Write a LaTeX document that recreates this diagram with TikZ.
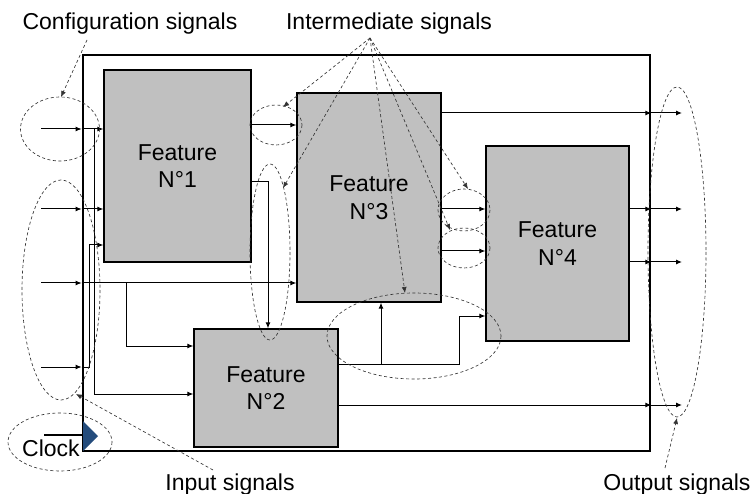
\documentclass[tikz,border=0pt]{standalone}
\usepackage{fontspec}
\setmainfont{Liberation Sans}
\usetikzlibrary{arrows.meta}
\definecolor{featgray}{HTML}{C0C0C0}
\definecolor{clockblue}{HTML}{244C7C}
\begin{document}
\begin{tikzpicture}[x=1pt,y=-1pt,
  feat/.style={draw=black, line width=1.3pt, fill=featgray, align=center,
    font=\fontsize{23}{27.5}\selectfont, inner sep=0pt},
  chipbox/.style={draw=black, line width=2.7pt, inner sep=0pt},
  wire/.style={line width=1pt, -{Latex[length=6pt,width=5pt]}},
  ann/.style={dash pattern=on 3pt off 2.5pt, line width=0.65pt, draw=black!80},
  annarrow/.style={ann, -{Latex[length=6pt,width=5pt]}},
  lbl/.style={font=\fontsize{23}{27.5}\selectfont, anchor=base, inner sep=0pt}
]
\useasboundingbox (0,0) rectangle (752,494);

% outer block
\node[chipbox, minimum width=567pt, minimum height=396pt] (chip) at (366.5,253) {};

% features
\node[feat, minimum width=147pt, minimum height=192pt] (f1) at (177.5,166) {Feature\\N°1};
\node[feat, minimum width=144pt, minimum height=209pt] (f3) at (369,197.5) {Feature\\N°3};
\node[feat, minimum width=143pt, minimum height=195pt] (f4) at (557.5,243.5) {Feature\\N°4};
\node[feat, minimum width=144pt, minimum height=118pt] (f2) at (266,388) {Feature\\N°2};

% input coordinates
\coordinate (i1) at (41,129);
\coordinate (i2) at (41,209);
\coordinate (i3) at (41,283);
\coordinate (i4) at (41,367);
\coordinate (b1) at (94,129);
\coordinate (b1d) at (94,394);
\coordinate (b3) at (126,283);
\coordinate (b3d) at (126,346);
\coordinate (b4) at (89,367);
\coordinate (b4u) at (89,245);

% inputs
\draw[wire] (i1) -- (chip.west |- i1);
\draw[wire] (chip.west |- i1) -- (f1.west |- i1);
\draw[wire] (i2) -- (chip.west |- i2);
\draw[wire] (chip.west |- i2) -- (f1.west |- i2);
\draw[wire] (i3) -- (chip.west |- i3);
\draw[wire] (chip.west |- i3) -- (f3.west |- i3);
\draw[wire] (i4) -- (chip.west |- i4);
\draw[wire] (chip.west |- i4) -- (b4) -- (b4u) -- (f1.west |- b4u);
\draw[wire] (b1) -- (b1d) -- (f2.west |- b1d);
\draw[wire] (b3) -- (b3d) -- (f2.west |- b3d);

% feature 1 outputs
\coordinate (k0) at (251,125);
\coordinate (k1) at (268,182);
\draw[wire] (f1.east |- k0) -- (f3.west |- k0);
\draw[wire] (f1.east |- k1) -- (k1) -- (k1 |- f2.north);

% feature 3 outputs
\coordinate (o1) at (682,113);
\coordinate (m1) at (441,209);
\coordinate (m2) at (441,251);
\draw[wire] (f3.east |- o1) -- (chip.east |- o1);
\draw[wire] (chip.east |- o1) -- (o1);
\draw[wire] (f3.east |- m1) -- (f4.west |- m1);
\draw[wire] (f3.east |- m2) -- (f4.west |- m2);

% feature 4 outputs
\coordinate (o2) at (682,209);
\coordinate (o3) at (682,262);
\draw[wire] (f4.east |- o2) -- (chip.east |- o2);
\draw[wire] (chip.east |- o2) -- (o2);
\draw[wire] (f4.east |- o3) -- (chip.east |- o3);
\draw[wire] (chip.east |- o3) -- (o3);

% feature 2 outputs
\coordinate (p1) at (381,364);
\coordinate (p2) at (459,364);
\coordinate (p3) at (459,316);
\coordinate (o4) at (682,405);
\draw[wire] (f2.east |- p1) -- (p1) -- (p1 |- f3.south);
\draw[wire] (p1) -- (p2) -- (p3) -- (f4.west |- p3);
\draw[wire] (f2.east |- o4) -- (chip.east |- o4);
\draw[wire] (chip.east |- o4) -- (o4);

% clock
\coordinate (ck) at (44,435);
\draw[line width=1.6pt] (ck) -- (chip.west |- ck);
\fill[clockblue] (83,421) -- (98,436) -- (83,451) -- cycle;
\node[lbl] (clk) at (51,456) {Clock};

% dashed groupings
\draw[ann] (60,129) ellipse [x radius=39.5, y radius=32];
\draw[ann] (61,290) ellipse [x radius=39, y radius=110];
\draw[ann] (60,442) ellipse [x radius=52, y radius=29];
\draw[ann] (276,125) ellipse [x radius=26, y radius=20];
\draw[ann] (270,252) ellipse [x radius=20, y radius=88];
\draw[ann] (464,210) ellipse [x radius=26, y radius=21];
\draw[ann] (464,248) ellipse [x radius=26, y radius=20];
\draw[ann] (414,336) ellipse [x radius=87, y radius=43];
\draw[ann] (677,252) ellipse [x radius=29, y radius=165];

% labels
\node[lbl] (lconf) at (130,30) {Configuration signals};
\node[lbl] (linter) at (389,30) {Intermediate signals};
\node[lbl] (linput) at (230,490) {Input signals};
\node[lbl] (loutput) at (677,490) {Output signals};

% annotation pointers
\coordinate (apex) at (370,38);
\coordinate (cfrom) at (87,40);
\draw[annarrow] (cfrom) -- (61,97);
\draw[annarrow] (apex) -- (283,107);
\draw[annarrow] (apex) -- (283,188);
\draw[annarrow] (apex) -- (405,293);
\draw[annarrow] (apex) -- (468,189);
\draw[annarrow] (apex) -- (450,230);
\coordinate (infrom) at (213,470);
\draw[annarrow] (infrom) -- (76,394);
\coordinate (outfrom) at (665,468);
\draw[annarrow] (outfrom) -- (677,418);
\end{tikzpicture}
\end{document}
